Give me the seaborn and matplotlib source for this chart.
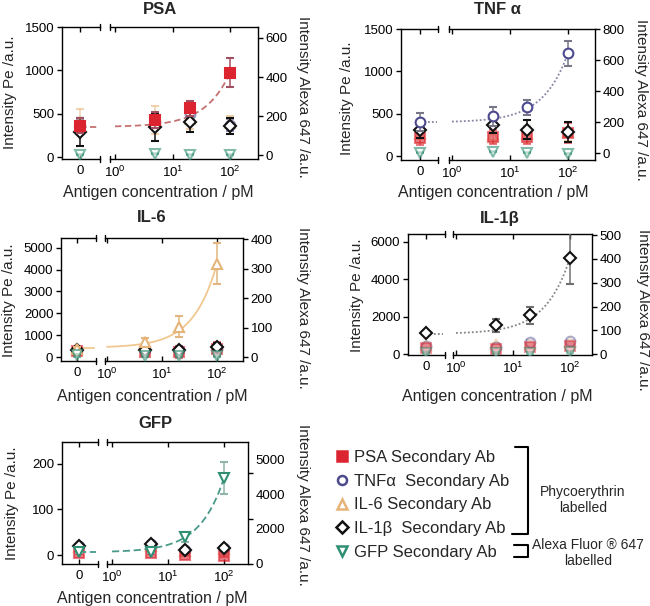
import numpy as np
import pandas as pd
import matplotlib
matplotlib.use("Agg")
import matplotlib.pyplot as plt
import seaborn as sns
from matplotlib.lines import Line2D
from matplotlib.ticker import FixedLocator, NullLocator

sns.set_theme(style="ticks")
plt.rcParams['font.family'] = ['Liberation Sans', 'DejaVu Sans']
plt.rcParams['axes.edgecolor'] = 'black'
plt.rcParams['xtick.color'] = 'black'
plt.rcParams['ytick.color'] = 'black'

# ---------------- data ----------------
conc = [0, 5, 20, 100]   # pM
series_labels = ['PSA Secondary Ab', 'TNF\u03b1  Secondary Ab', 'IL-6 Secondary Ab',
                 'IL-1\u03b2  Secondary Ab', 'GFP Secondary Ab']
panel_titles = ['PSA', 'TNF \u03b1', 'IL-6', 'IL-1\u03b2', 'GFP']

# rows: PSA, TNFa, IL-6, IL-1b secondary Ab (left axis, PE) ; GFP secondary Ab (right axis, Alexa 647)
psa_vals = [[365, 427, 562, 973], [360, 410, 500, 370], [410, 430, 440, 400],
            [292, 343, 408, 358], [3, 8, 2, 2]]
psa_errs = [[90, 90, 85, 165], [80, 80, 60, 70], [140, 160, 110, 70],
            [160, 150, 115, 95], [3, 3, 3, 3]]

tnf_vals = [[218, 225, 230, 276], [402, 469, 578, 1214], [260, 250, 260, 290],
            [312, 363, 312, 284], [2, 8, 3, -4]]
tnf_errs = [[90, 80, 90, 120], [110, 110, 90, 145], [100, 90, 100, 110],
            [100, 90, 110, 120], [3, 3, 3, 3]]

il6_vals = [[280, 260, 230, 380], [320, 330, 330, 420], [364, 709, 1391, 4273],
            [350, 332, 332, 482], [8, 4, 4, 5]]
il6_errs = [[80, 150, 280, 300], [80, 100, 150, 200], [100, 150, 470, 950],
            [80, 100, 150, 150], [5, 4, 4, 4]]

il1b_vals = [[318, 265, 407, 460], [442, 407, 661, 696], [496, 531, 560, 672],
             [1115, 1558, 2088, 5150], [5, 5, 5, 10]]
il1b_errs = [[60, 60, 80, 80], [80, 80, 80, 80], [80, 80, 80, 80],
             [100, 350, 460, 1370], [4, 4, 4, 4]]

gfp_vals = [[4, 4, 0, -1], [20, 24, 12, 16], [17, 21, 9, 13],
            [21, 25, 11.5, 16.5], [541, 541, 1200, 3794]]
gfp_errs = [[2, 2, 2, 2], [3, 3, 3, 3], [3, 3, 3, 3],
            [3, 3, 3, 3], [60, 60, 220, 700]]

# linear fit parameters (intercept, slope) of the specific secondary Ab in each panel
fit_intercepts = [350, 400, 440, 1100, 520]
fit_slopes = [6.23, 8.14, 38.3, 40.5, 32.7]

left_ticks = [[0, 500, 1000, 1500], [0, 500, 1000, 1500], [0, 1000, 2000, 3000, 4000, 5000],
              [0, 2000, 4000, 6000], [0, 100, 200]]
right_ticks = [[0, 200, 400, 600], [0, 200, 400, 600, 800], [0, 100, 200, 300, 400],
               [0, 100, 200, 300, 400, 500], [0, 2000, 4000]]
gfp_right_label_text = ['0', '2000', '4000', '5000']
gfp_right_label_pos = [44, 1582, 3077, 4615]

# ---------------- style ----------------
colors = ['#dc2430', '#4d4a8e', '#e6b478', '#111111', '#2f8f72']
main_ecolors = ['#a0505e', '#777788', '#e2b67e', '#707070', '#8fb5a8']
markers = ['s', 'o', '^', 'D', 'v']
msizes = [7, 7, 7.5, 6.3, 7.5]
fit_colors = ['#c47272', '#8484a4', '#f0c890', '#858585', '#4a9a8a']
fit_styles = [(0, (3.5, 2)), (0, (1, 1.2)), '-', (0, (1, 1.2)), (0, (4, 2))]

W, H = 650, 606
fig = plt.figure(figsize=(6.5, 6.06), dpi=100)

# layout in pixels: (L, break1, break2, R, top, bottom), zero px, 10^0 px, decade px
layouts = [
    ((62, 100, 110, 258, 27, 159), 80, 115, 57.5),
    ((401, 438, 449, 595, 29, 160), 420, 452, 58),
    ((61, 96, 105, 243, 238, 361), 77, 107, 55),
    ((408, 445, 453, 592, 234, 355), 426, 456, 57),
    ((62, 98, 107, 248, 442, 564), 79, 112, 56),
]
ylims_left = [(-20, 1500), (-45, 1500), (-168, 5436), (-37, 6427), (-19, 247)]
ylims_right = [(-19, 656), (-45, 800), (-12, 404), (-4, 505), (0, 5375)]
title_pos = [(160, 9), (498, 9), (152, 218), (500, 218), (155, 423)]
xlabel_pos = [(158, 192), (493, 192), (152, 397), (497, 397), (152, 598)]
ylabel_l_pos = [(10, 92), (347, 98), (9, 300), (357, 295), (12, 503)]
ylabel_r_pos = [(303, 97), (641, 100), (303, 308), (643, 310), (303, 505)]

all_vals = [psa_vals, tnf_vals, il6_vals, il1b_vals, gfp_vals]
all_errs = [psa_errs, tnf_errs, il6_errs, il1b_errs, gfp_errs]

TICK = 9.5
LAB = 11


def px_axes(L, R, top, bottom, **kw):
    return fig.add_axes([L / W, 1 - bottom / H, (R - L) / W, (bottom - top) / H], **kw)


for p in range(5):
    (L, B1, B2, R, top, bot), zpx, d0, dw = layouts[p]
    ax0 = px_axes(L, B1, top, bot)
    ax1 = px_axes(B2, R, top, bot, sharey=ax0)
    ax0r = ax0.twinx()
    ax1r = ax1.twinx()

    ax0.set_xlim((L - zpx) / 20, (B1 - zpx) / 20)
    ax1.set_xscale('log')
    ax1.set_xlim(10 ** ((B2 - d0) / dw), 10 ** ((R - d0) / dw))
    ax0.set_ylim(*ylims_left[p])
    ax0r.set_ylim(*ylims_right[p])
    ax1r.set_ylim(*ylims_right[p])

    # spines
    for a in (ax0, ax1, ax0r, ax1r):
        for s in a.spines.values():
            s.set_linewidth(1.0)
            s.set_color('black')
    ax0.spines['right'].set_visible(False)
    ax1.spines['left'].set_visible(False)
    ax1.spines['right'].set_visible(False)
    for s in ax0r.spines.values():
        s.set_visible(False)
    for k in ('left', 'top', 'bottom'):
        ax1r.spines[k].set_visible(False)

    # ticks
    ax0.set_xticks([0])
    ax0.set_xticklabels(['0'])
    ax1.xaxis.set_major_locator(FixedLocator([1, 10, 100]))
    ax1.xaxis.set_minor_locator(NullLocator())
    for a in (ax0, ax1):
        a.tick_params(axis='x', which='both', direction='in', top=True, bottom=True,
                      length=3.5, width=1, labelsize=TICK, pad=4)
    ax0.set_yticks(left_ticks[p])
    ax0.tick_params(axis='y', direction='out', left=True, right=False, length=3.5,
                    width=1, labelsize=TICK, pad=2)
    ax1.tick_params(axis='y', left=False, right=False, labelleft=False, labelright=False)
    ax0r.tick_params(axis='y', left=False, right=False, labelleft=False, labelright=False)
    ax0r.set_yticks([])
    if p == 4:
        ax1r.yaxis.set_major_locator(FixedLocator(gfp_right_label_pos))
        ax1r.set_yticklabels(gfp_right_label_text)
        ax1r.yaxis.set_minor_locator(FixedLocator(right_ticks[p]))
        ax1r.tick_params(axis='y', which='major', direction='out', length=0, labelsize=TICK, pad=5.5)
        ax1r.tick_params(axis='y', which='minor', direction='out', length=3.5, width=1)
    else:
        ax1r.set_yticks(right_ticks[p])
        ax1r.tick_params(axis='y', direction='out', length=3.5, width=1, labelsize=TICK, pad=2)

    # break marks
    for a, xb in ((ax0, 1), (ax1, 0)):
        d = 3.0 / (bot - top)
        for yb in (0, 1):
            a.plot([xb, xb], [yb - d, yb + d], transform=a.transAxes, color='black',
                   lw=1.0, clip_on=False, zorder=10)

    # fit line (specific antibody)
    fa, fb = fit_intercepts[p], fit_slopes[p]
    fz = ax0 if p < 4 else ax0r
    fl = ax1 if p < 4 else ax1r
    x_zero = np.array([0.0, ax0.get_xlim()[1] * 0.92])
    x_log = np.logspace(0, 2, 80)
    df_zero = pd.DataFrame({'x': x_zero, 'y': [fa + fb * 0.0] * 2})
    df_log = pd.DataFrame({'x': x_log, 'y': fa + fb * x_log})
    for a, df in ((fz, df_zero), (fl, df_log)):
        sns.lineplot(data=df, x='x', y='y', ax=a, color=fit_colors[p], lw=1.3,
                     linestyle=fit_styles[p], zorder=2, legend=False)
        a.set_xlabel('')
        a.set_ylabel('')

    # data points
    order = [4, 2, 1, 0, 3]
    for k in order:
        vals = all_vals[p][k]
        errs = all_errs[p][k]
        is_main = (k == p)
        c = colors[k]
        if is_main:
            alpha, ecol, z = 1.0, main_ecolors[k], 6
        elif k == 3:
            alpha, ecol, z = 1.0, '#111111', 5
        else:
            alpha = 0.45 if p == 3 else 0.6
            ecol, z = c, 3
        face = c if k == 0 else 'white'
        kw = dict(marker=markers[k], ms=msizes[k], mfc=face, mec=c, mew=1.5, ls='none',
                  ecolor=ecol, elinewidth=1.1, capsize=3, capthick=1.1, alpha=alpha, zorder=z)
        az = ax0 if k < 4 else ax0r
        al = ax1 if k < 4 else ax1r
        az.errorbar(conc[:1], vals[:1], yerr=errs[:1], **kw)
        al.errorbar(conc[1:], vals[1:], yerr=errs[1:], **kw)

    ax0.set_ylim(*ylims_left[p])
    ax0r.set_ylim(*ylims_right[p])
    ax1r.set_ylim(*ylims_right[p])

    # texts
    tx, ty = title_pos[p]
    fig.text(tx / W, 1 - ty / H, panel_titles[p], ha='center', va='center',
             fontsize=12, fontweight='bold')
    xx, xy = xlabel_pos[p]
    fig.text(xx / W, 1 - xy / H, 'Antigen concentration / pM', ha='center', va='center', fontsize=LAB + 0.5)
    lx, ly = ylabel_l_pos[p]
    fig.text(lx / W, 1 - ly / H, 'Intensity Pe /a.u.', ha='center', va='center', rotation=90, fontsize=LAB)
    rx, ry = ylabel_r_pos[p]
    fig.text(rx / W, 1 - ry / H, 'Intensity Alexa 647 /a.u.', ha='center', va='center', rotation=270, fontsize=LAB)

# ---------------- legend ----------------
handles = []
for k in range(5):
    face = colors[k] if k == 0 else 'white'
    handles.append(Line2D([], [], marker=markers[k], ms=msizes[k] - 0.5, mfc=face, mec=colors[k],
                          mew=1.8, ls='none'))
fig.legend(handles, series_labels, loc='upper left', bbox_to_anchor=(336 / W, 1 - 450 / H),
           frameon=False, fontsize=12, handlelength=0.7, handletextpad=0.35, labelspacing=0.52,
           borderpad=0, borderaxespad=0)

ov = fig.add_axes([0, 0, 1, 1])
ov.set_xlim(0, W)
ov.set_ylim(H, 0)
ov.axis('off')
ov.patch.set_alpha(0)
ov.plot([515, 528, 528, 512], [447, 447, 534, 534], color='black', lw=1.5)
ov.plot([514, 528, 528, 514], [545, 545, 557, 557], color='black', lw=1.5)
ov.text(583, 500, 'Phycoerythrin\nlabelled', ha='center', va='center', fontsize=10, linespacing=1.2)
ov.text(588, 553, 'Alexa Fluor \u00ae 647\nlabelled', ha='center', va='center', fontsize=10, linespacing=1.15)

fig.savefig('out.png', dpi=100)
